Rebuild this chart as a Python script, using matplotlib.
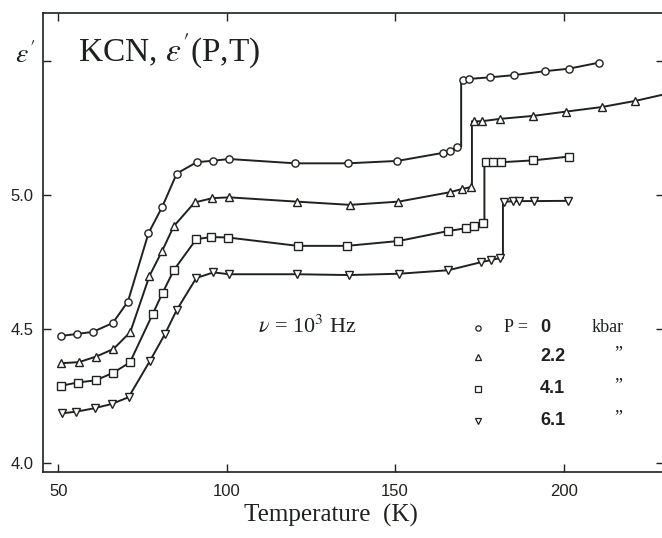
import matplotlib
matplotlib.use("Agg")
import matplotlib.pyplot as plt

plt.rcParams['font.family'] = ['Liberation Sans', 'DejaVu Sans']
plt.rcParams['mathtext.fontset'] = 'stix'

# dielectric constant of KCN vs temperature, four pressures (kbar)
pressures = ["0", "2.2", "4.1", "6.1"]
markers = ["o", "^", "s", "v"]

t_p0 = [50.9, 55.5, 60.3, 66.2, 70.7, 76.8, 80.9, 85.2, 91.1, 96.1, 100.8, 120.3,
        136.0, 150.7, 164.2, 166.3, 168.3, 170.1, 172.0, 178.2, 185.2, 194.5, 201.5, 210.6]
e_p0 = [4.474, 4.481, 4.489, 4.522, 4.602, 4.857, 4.956, 5.080, 5.122, 5.128, 5.134, 5.118,
        5.118, 5.127, 5.157, 5.164, 5.180, 5.429, 5.433, 5.439, 5.447, 5.462, 5.471, 5.494]

t_p1 = [50.9, 56.2, 61.3, 66.4, 71.4, 77.1, 80.9, 84.3, 90.5, 95.8, 100.8, 120.8,
        136.6, 151.0, 166.2, 169.8, 172.4, 173.4, 175.7, 181.2, 191.0, 200.7, 211.3, 221.3, 231.5]
e_p1 = [4.372, 4.376, 4.397, 4.425, 4.488, 4.698, 4.792, 4.883, 4.972, 4.988, 4.991, 4.975,
        4.963, 4.975, 5.010, 5.022, 5.029, 5.275, 5.275, 5.284, 5.295, 5.311, 5.328, 5.351, 5.380]

t_p2 = [50.9, 55.8, 61.1, 66.3, 71.3, 78.0, 81.0, 84.4, 91.0, 95.5, 100.5, 121.1,
        135.7, 151.0, 165.6, 171.1, 173.4, 176.0, 176.9, 179.0, 181.4, 191.0, 201.5]
e_p2 = [4.288, 4.300, 4.308, 4.336, 4.375, 4.554, 4.635, 4.721, 4.835, 4.843, 4.841, 4.810,
        4.810, 4.828, 4.865, 4.876, 4.884, 4.894, 5.124, 5.124, 5.122, 5.129, 5.143]

t_p3 = [51.1, 55.3, 60.8, 65.9, 70.9, 77.3, 81.7, 85.2, 91.0, 96.1, 100.7, 121.0,
        136.3, 151.3, 165.8, 175.5, 178.5, 181.0, 182.4, 184.9, 186.9, 191.2, 201.2]
e_p3 = [4.185, 4.191, 4.204, 4.220, 4.245, 4.382, 4.481, 4.571, 4.690, 4.711, 4.704, 4.704,
        4.701, 4.706, 4.719, 4.749, 4.757, 4.764, 4.975, 4.976, 4.977, 4.977, 4.978]

# transition temperatures (vertical jump)
tc = [169.6, 172.8, 176.5, 182.0]

temps = [t_p0, t_p1, t_p2, t_p3]
eps = [e_p0, e_p1, e_p2, e_p3]

ink = '#1e221e'

fig = plt.figure(figsize=(6.62, 5.38), dpi=100)
ax = fig.add_axes([43/662, 66/538, 621/662, 459/538])

for t, e, m, c in zip(temps, eps, markers, tc):
    lo = [i for i in range(len(t)) if t[i] < c]
    hi = [i for i in range(len(t)) if t[i] >= c]
    xs = [t[i] for i in lo] + [c, c] + [t[i] for i in hi]
    ys = [e[i] for i in lo] + [e[lo[-1]], e[hi[0]]] + [e[i] for i in hi]
    ax.plot(xs, ys, '-', color=ink, lw=1.4, zorder=2)
    ax.plot(t, e, ls='none', marker=m, ms=5.2, mfc='white', mec=ink, mew=1.0, zorder=3)

ax.set_xlim(45.5, 229.8)
ax.set_ylim(3.966, 5.679)
ax.set_xticks([50, 100, 150, 200])
ax.set_xticklabels(["50", "100", "150", "200"])
ax.set_yticks([4.0, 4.5, 5.0, 5.5])
ax.set_yticklabels(["4.0", "4.5", "5.0", ""])
ax.tick_params(direction='in', length=6, width=1, top=True, right=True,
               labelsize=12, colors=ink)
ax.tick_params(axis='x', pad=9)
ax.tick_params(axis='y', pad=7)
for s in ax.spines.values():
    s.set_linewidth(1.2)
    s.set_color(ink)

ax.text(55.9, 5.534, "KCN, $\\epsilon'$(P,T)", family='Liberation Serif',
        fontsize=24, va='center', color=ink)
fig.text(25/662, 1 - 56/538, "$\\epsilon'$", fontsize=20, ha='center', va='center', color=ink)
ax.text(109.3, 4.507, "$\\nu$ = 10$^3$ Hz", family='Liberation Serif',
        fontsize=16, va='center', color=ink)

# legend drawn as text rows
row_y = [4.504, 4.396, 4.276, 4.157]
for k in range(4):
    ax.plot([174.6], [row_y[k]], ls='none', marker=markers[k], ms=3.8,
            mfc='white', mec=ink, mew=0.9)
    ax.text(193.0, row_y[k], pressures[k], fontsize=13, fontweight='bold',
            va='center', color=ink)
    if k == 0:
        ax.text(182.3, row_y[k], "P =", family='Liberation Serif', fontsize=13,
                va='center', color=ink)
        ax.text(208.2, row_y[k], "kbar", family='Liberation Serif', fontsize=13,
                va='center', color=ink)
    else:
        ax.text(216.2, row_y[k] + 0.012, "\u201d", family='Liberation Serif',
                fontsize=13, ha='center', va='center', color=ink)

fig.text(331/662, 1 - 515/538, "Temperature  (K)", family='Liberation Serif',
         fontsize=18, ha='center', va='center', color=ink)

fig.savefig("out.png", dpi=100)
